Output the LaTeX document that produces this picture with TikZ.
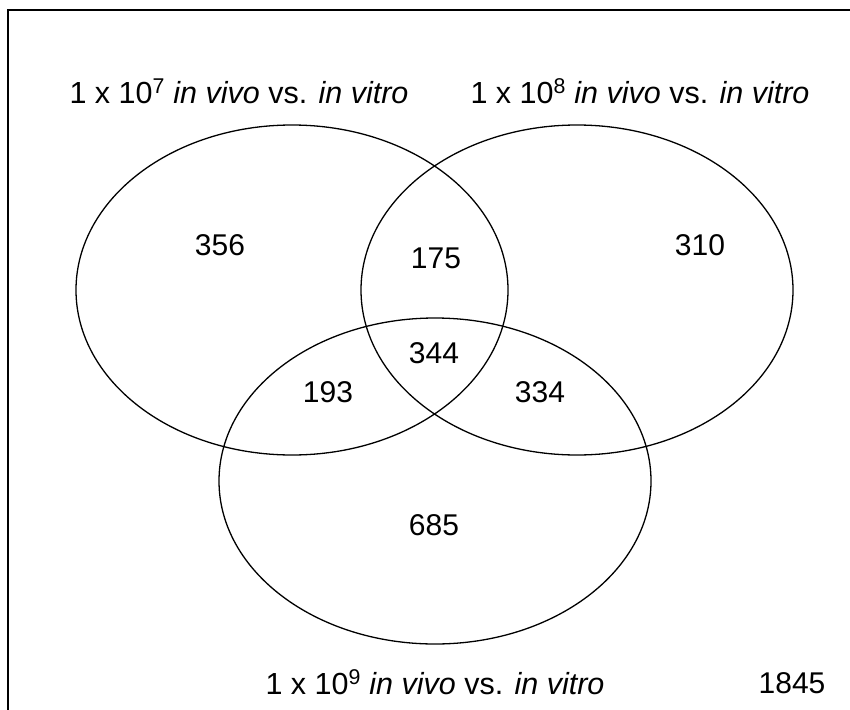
\documentclass[tikz,border=0pt]{standalone}
\usepackage{fontspec}
\setmainfont{Liberation Sans}
\begin{document}
\begin{tikzpicture}[x=1pt,y=-1pt,
  setline/.style={line width=1.3pt},
  frameline/.style={line width=2.2pt},
  lbl/.style={inner sep=0pt, font=\fontsize{30.5}{34}\selectfont},
  count/.style={inner sep=0pt, font=\fontsize{30}{34}\selectfont}]
  \useasboundingbox (0,0) rectangle (850,709);
  \clip (0,0) rectangle (850,709);
  % outer frame (runs past the right and bottom edges)
  \draw[frameline] (8,10) rectangle (860,720);
  % the three sets
  \draw[setline] (292,290) ellipse [x radius=216, y radius=165];
  \draw[setline] (577,290) ellipse [x radius=216, y radius=165];
  \draw[setline] (435,481) ellipse [x radius=216, y radius=163];
  % set titles
  \node[lbl, anchor=base] (t7) at (239,103) {1 x 10\textsuperscript{7} \textit{in vivo} vs. \textit{in vitro}};
  \node[lbl, anchor=base] (t8) at (640,103) {1 x 10\textsuperscript{8} \textit{in vivo} vs. \textit{in vitro}};
  \node[lbl, anchor=base] (t9) at (435,694) {1 x 10\textsuperscript{9} \textit{in vivo} vs. \textit{in vitro}};
  % region counts
  \node[count] (a) at (220,245) {356};
  \node[count] (ab) at (436,258) {175};
  \node[count] (b) at (700,245) {310};
  \node[count] (abc) at (434,353) {344};
  \node[count] (ac) at (328,392) {193};
  \node[count] (bc) at (540,392) {334};
  \node[count] (c) at (434,525) {685};
  \node[count, anchor=base] (tot) at (792,693) {1845};
\end{tikzpicture}
\end{document}
